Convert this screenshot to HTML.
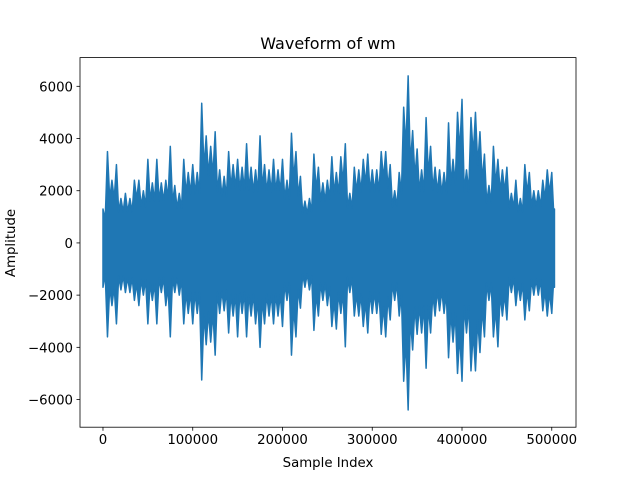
<!DOCTYPE html>
<html><head><meta charset="utf-8"><style>
body{margin:0;background:#fff;}
svg{display:block;font-family:"DejaVu Sans","Liberation Sans",sans-serif;}
</style></head><body>
<svg id="chart" width="640" height="480" viewBox="0 0 640 480" xmlns="http://www.w3.org/2000/svg">
<rect width="640" height="480" fill="#fff"/>
<g id="plot"></g>
<g id="axes"></g>
<text x="328" y="49" font-size="16" text-anchor="middle">Waveform of wm</text>
<text x="328" y="467" font-size="13.3" text-anchor="middle">Sample Index</text>
<text transform="translate(15,243) rotate(-90)" font-size="13.3" text-anchor="middle">Amplitude</text>
</svg>
<script>
// envelope per 5000-sample bin (amplitude units)
const binStep = 5000;
const envMax = [1300,3500,2400,3000,1700,1900,1700,2400,2400,2000,3200,2300,3200,2300,2400,3700,2200,1900,3200,2700,3000,2700,5350,4100,3700,4260,2800,2550,3500,3000,3200,2900,3800,2900,2800,4100,3000,2800,3200,2800,3200,2400,4200,3500,2550,1600,1700,3400,2900,2300,2400,3300,2700,3300,3800,1900,2900,2800,3200,3400,2800,2800,3500,3500,3000,2000,2700,5200,6400,4300,3600,2800,4800,3700,2900,2800,2700,4600,3200,5000,5500,2800,4800,5000,4260,3400,2200,3700,3200,2800,2900,1900,2400,1700,3000,2700,2000,2000,2400,2800,2700,1300];
const envMin = [-1700,-3600,-2400,-3100,-1800,-1900,-1900,-2200,-2400,-2000,-3100,-2200,-3100,-1900,-2400,-3600,-1900,-2000,-3100,-2700,-3100,-2700,-5250,-3900,-3800,-4300,-2700,-2600,-3450,-2800,-3600,-2700,-3600,-2800,-3100,-4000,-3100,-2800,-3100,-2800,-3200,-2200,-4300,-3600,-2500,-1700,-1800,-3350,-2800,-2200,-2400,-3200,-3300,-2700,-3980,-1900,-2800,-2800,-3200,-3450,-2700,-2700,-3500,-3600,-2950,-2200,-2800,-5300,-6400,-4100,-3500,-3450,-4800,-3450,-2800,-2600,-2700,-4400,-3800,-5000,-5300,-3450,-4900,-4900,-4200,-3600,-2200,-3600,-3980,-2800,-2950,-1900,-2400,-2200,-2950,-2600,-2000,-2000,-2600,-2800,-2700,-1700];
const xTicks = [0,100000,200000,300000,400000,500000];
const yTicks = [-6000,-4000,-2000,0,2000,4000,6000];

const L=80,R=576,T=57.6,B=427.2;
const xMin=-25600,xMax=527000,yMin=-7060,yMax=7100;
const sx=v=>L+(v-xMin)/(xMax-xMin)*(R-L);
const sy=v=>B-(v-yMin)/(yMax-yMin)*(B-T);
const NS='http://www.w3.org/2000/svg';
const plot=document.getElementById('plot'), axes=document.getElementById('axes');
function mk(tag,attrs,parent){const e=document.createElementNS(NS,tag);for(const k in attrs)e.setAttribute(k,attrs[k]);parent.appendChild(e);return e;}

// jagged filled envelope
const n=envMax.length;
const xAt=i=>sx(Math.min(i*binStep,503000));
let up=[],lo=[];
for(let i=0;i<n;i++){
  up.push(xAt(i).toFixed(2)+','+sy(envMax[i]).toFixed(2));
  lo.push(xAt(i).toFixed(2)+','+sy(envMin[i]).toFixed(2));
  if(i<n-1){
    const xm=sx((i+0.5)*binStep);
    const vu=0.7*Math.min(envMax[i],envMax[i+1]);
    const vl=0.7*Math.max(envMin[i],envMin[i+1]);
    up.push(xm.toFixed(2)+','+sy(vu).toFixed(2));
    lo.push(xm.toFixed(2)+','+sy(vl).toFixed(2));
  }
}
const poly=up.concat(lo.reverse());
const wave=mk('polygon',{points:poly.join(' '),fill:'#1f77b4',stroke:'#1f77b4','stroke-width':1.5,'stroke-linejoin':'round'},plot);



// frame
const fr=mk('rect',{x:L,y:T,width:R-L,height:B-T,fill:'none',stroke:'#000','stroke-width':0.8},axes);


xTicks.forEach(t=>{
  const x=sx(t);
  const l=mk('line',{x1:x,x2:x,y1:B,y2:B+3.5,stroke:'#000','stroke-width':0.8},axes);
  
  
  const tx=mk('text',{x:x,y:B+17,'font-size':13.3,'text-anchor':'middle'},axes);
  tx.textContent=t;
  
  
});
yTicks.forEach(t=>{
  const y=sy(t);
  const l=mk('line',{x1:L-3.5,x2:L,y1:y,y2:y,stroke:'#000','stroke-width':0.8},axes);
  
  
  const tx=mk('text',{x:L-7,y:y+5,'font-size':13.3,'text-anchor':'end'},axes);
  tx.textContent=(t<0?'\u2212'+(-t):t);
  
  
});
</script>
</body></html>
